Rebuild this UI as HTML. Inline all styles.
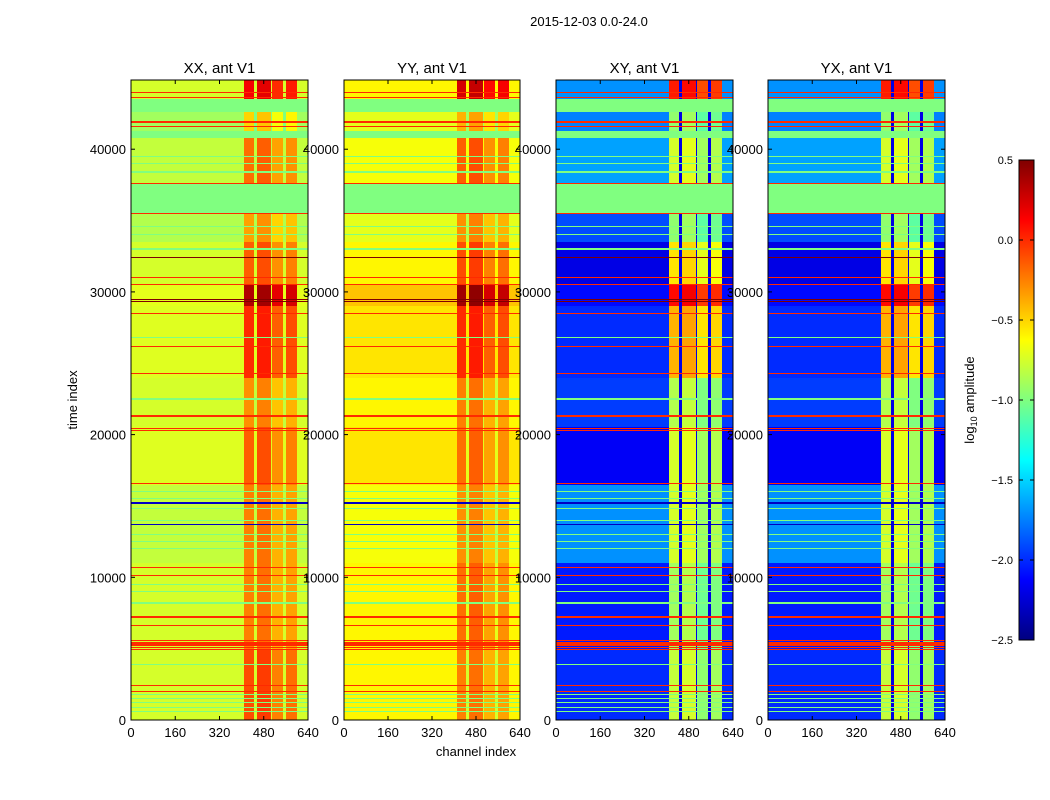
<!DOCTYPE html>
<html><head><meta charset="utf-8"><style>
body{margin:0;background:#fff;}
#wrap{position:relative;width:1050px;height:800px;overflow:hidden;font-family:"Liberation Sans",sans-serif;}
canvas{position:absolute;image-rendering:pixelated;}
svg{position:absolute;left:0;top:0;}
</style></head><body>
<div id="wrap">
<canvas id="c0" width="177" height="640" style="left:131px;top:80px"></canvas>
<canvas id="c1" width="176" height="640" style="left:344px;top:80px"></canvas>
<canvas id="c2" width="177" height="640" style="left:556px;top:80px"></canvas>
<canvas id="c3" width="177" height="640" style="left:768px;top:80px"></canvas>
<canvas id="cb" width="15" height="480" style="left:1019px;top:160px"></canvas>
<svg id="ax" width="1050" height="800"></svg>
</div>
<script>
// ---- data ----
const panelTitles = ["XX, ant V1","YY, ant V1","XY, ant V1","YX, ant V1"];
const xTicks = [0,160,320,480,640];
const yTicks = [0,10000,20000,30000,40000];
const cbTicks = [0.5,0.0,-0.5,-1.0,-1.5,-2.0,-2.5];
const tMax = 44850;
const segStart = [0,5000,11000,16500,20500,24000,29000,30500,33500,35500,37600,40800,41300,42600,43500];
const segEnd   = [5000,11000,16500,20500,24000,29000,30500,33500,35500,37600,40800,41300,42600,43500,44850];
const xxLo = [-0.75,-0.75,-0.8,-0.72,-0.75,-0.72,-0.7,-0.75,-0.85,-1.0,-0.8,-1.0,-0.9,-1.0,-0.75];
const xxHi = [-0.15,-0.3,-0.3,-0.2,-0.35,-0.05,0.3,-0.2,-0.4,-1.0,-0.25,-1.0,-0.55,-1.0,0.1];
const yyLo = [-0.6,-0.6,-0.65,-0.55,-0.6,-0.55,-0.45,-0.6,-0.7,-1.0,-0.65,-1.0,-0.7,-1.0,-0.6];
const yyHi = [-0.3,-0.25,-0.35,-0.25,-0.3,-0.05,0.35,-0.15,-0.35,-1.0,-0.2,-1.0,-0.45,-1.0,0.2];
const xyLo = [-2.0,-2.05,-1.7,-2.15,-1.95,-2.0,-2.1,-2.2,-1.9,-1.0,-1.65,-1.0,-1.75,-1.0,-1.7];
const xyHi = [-0.85,-0.95,-0.8,-0.8,-0.9,-0.45,0.05,-0.6,-1.0,-1.0,-0.8,-1.0,-1.0,-1.0,0.0];
const hotStart = [410,455,510,560];
const hotEnd   = [445,505,550,600];
const hotBoost = [0.05,0.1,-0.1,-0.05];
const lineTimes = [600,900,1200,1500,1800,2000,2400,3900,4950,5100,5250,5400,5550,6600,7200,7250,8200,9000,9500,10100,10700,12000,12500,13000,13700,14000,14800,15200,15500,16000,16600,20300,20450,21300,22500,24300,26200,26800,28500,29300,29450,30500,31000,32400,33000,34000,34600,35500,37600,38400,39000,39500,41600,41900,43600,44000];
const lineVals  = [-1.0,-1.0,-1.0,-1.0,-1.0,0.0,0.0,-1.0,0.0,0.0,0.0,0.0,0.0,0.0,0.0,0.0,-1.0,-1.0,-1.0,0.0,0.0,-1.0,-1.0,-1.0,-2.3,-1.0,-1.0,-2.3,-1.0,-1.0,0.0,0.0,0.0,0.0,-1.0,0.0,0.0,-1.0,0.0,0.5,0.5,0.0,0.0,0.5,-1.0,-1.0,-1.0,0.0,0.0,-1.0,-1.0,-1.0,0.0,0.0,0.0,0.0];

function jet(v){
  let f=(v+2.5)/3; f=Math.max(0,Math.min(1,f));
  const c=x=>Math.max(0,Math.min(1,x));
  const r=c(1.5-Math.abs(4*f-3)), g=c(1.5-Math.abs(4*f-2)), b=c(1.5-Math.abs(4*f-1));
  return [Math.round(r*255),Math.round(g*255),Math.round(b*255)];
}
function segIndex(t){for(let i=0;i<segStart.length;i++){if(t>=segStart[i]&&t<segEnd[i])return i;}return segStart.length-1;}
function lineAt(t,half){for(let i=0;i<lineTimes.length;i++){if(Math.abs(t-lineTimes[i])<half)return lineVals[i];}return null;}
function hotIdx(ch){for(let i=0;i<hotStart.length;i++){if(ch>=hotStart[i]&&ch<hotEnd[i])return i;}return -1;}
const loArr=[xxLo,yyLo,xyLo,xyLo], hiArr=[xxHi,yyHi,xyHi,xyHi];

function drawPanel(p){
  const cv=document.getElementById('c'+p), ctx=cv.getContext('2d');
  const W=cv.width,H=cv.height, img=ctx.createImageData(W,H);
  const half=tMax/H*0.6;
  for(let y=0;y<H;y++){
    const t=(H-y-0.5)/H*tMax;
    const s=segIndex(t), lv=lineAt(t,half);
    for(let x=0;x<W;x++){
      const ch=(x+0.5)/W*640;
      let v;
      if(lv!==null) v=lv;
      else{
        const lo=loArr[p][s], hi=hiArr[p][s];
        if(lo===-1.0&&hi===-1.0) v=-1.0;
        else if(ch>=hotStart[0]&&ch<hotEnd[hotEnd.length-1]){
          const h=hotIdx(ch);
          if(h<0) v=(p>=2)?-2.2:Math.min(lo,hi-0.45);
          else v=hi+hotBoost[h];
        } else v=lo;
      }
      const c=jet(v), k=(y*W+x)*4;
      img.data[k]=c[0];img.data[k+1]=c[1];img.data[k+2]=c[2];img.data[k+3]=255;
    }
  }
  ctx.putImageData(img,0,0);
}
for(let p=0;p<4;p++) drawPanel(p);
(function(){const cv=document.getElementById('cb'),ctx=cv.getContext('2d');
 for(let y=0;y<480;y++){const v=0.5-(y+0.5)/480*3;const c=jet(v);ctx.fillStyle=`rgb(${c[0]},${c[1]},${c[2]})`;ctx.fillRect(0,y,15,1);}})();

const NS="http://www.w3.org/2000/svg", svg=document.getElementById('ax');
function mk(tag,attrs,txt){const e=document.createElementNS(NS,tag);for(const k in attrs)e.setAttribute(k,attrs[k]);if(txt!==undefined)e.textContent=txt;svg.appendChild(e);return e;}
const panelX=[131,344,556,768], panelW=[177,176,177,177], topY=80, botY=720;
const yPix=t=>botY-t/tMax*(botY-topY);
for(let p=0;p<4;p++){
  const x0=panelX[p],w=panelW[p];
  const fr=mk('rect',{x:x0,y:topY,width:w,height:botY-topY,fill:'none',stroke:'#000','stroke-width':1});
  
  
  const tt=mk('text',{x:x0+w/2,y:73,'text-anchor':'middle','font-size':15},panelTitles[p]);
  
  
  xTicks.forEach(v=>{const xx=x0+v/640*w;
    mk('line',{x1:xx,x2:xx,y1:botY,y2:botY-4,stroke:'#000'});mk('line',{x1:xx,x2:xx,y1:topY,y2:topY+4,stroke:'#000'});
    const l=mk('text',{x:xx,y:737,'text-anchor':'middle','font-size':13},String(v));
    
    });
  yTicks.forEach(v=>{const yy=yPix(v);
    mk('line',{x1:x0,x2:x0+4,y1:yy,y2:yy,stroke:'#000'});mk('line',{x1:x0+w,x2:x0+w-4,y1:yy,y2:yy,stroke:'#000'});
    const l=mk('text',{x:x0-5,y:yy+5,'text-anchor':'end','font-size':13},String(v));
    
    });
}
const st=mk('text',{x:589,y:26,'text-anchor':'middle','font-size':13},'2015-12-03 0.0-24.0');


const xl=mk('text',{x:476,y:756,'text-anchor':'middle','font-size':13},'channel index');


const yl=mk('text',{x:77,y:400,'text-anchor':'middle','font-size':13,transform:'rotate(-90 77 400)'},'time index');


mk('rect',{x:1019,y:160,width:15,height:480,fill:'none',stroke:'#000'});
cbTicks.forEach(v=>{const yy=160+(0.5-v)/3*480;
  mk('line',{x1:1019,x2:1023,y1:yy,y2:yy,stroke:'#000'});mk('line',{x1:1030,x2:1034,y1:yy,y2:yy,stroke:'#000'});
  const l=mk('text',{x:1013,y:yy+4,'text-anchor':'end','font-size':11},v.toFixed(1).replace('-','\u2212'));
  
  });
const cl=mk('text',{x:974,y:400,'text-anchor':'middle','font-size':13,transform:'rotate(-90 974 400)'});


cl.innerHTML='log<tspan font-size="9" dy="3">10</tspan><tspan dy="-3"> amplitude</tspan>';
</script>
</body></html>
